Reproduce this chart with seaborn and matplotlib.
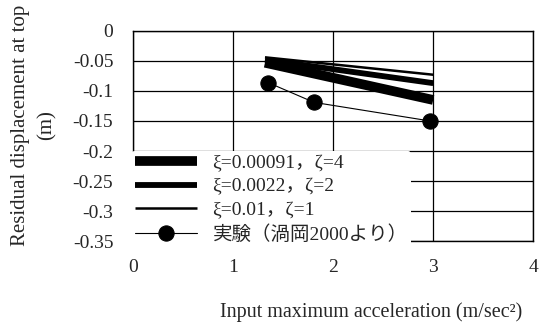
import matplotlib
matplotlib.use("Agg")
import matplotlib.pyplot as plt
import seaborn as sns
import pandas as pd

# Analysis results (three damping parameter sets) and experiment
accel = [1.32, 3.0]
disp_xi00091 = [-0.053, -0.115]
disp_xi0022 = [-0.048, -0.087]
disp_xi001 = [-0.044, -0.073]

exp_accel = [1.35, 1.81, 2.97]
exp_disp = [-0.086, -0.119, -0.150]

labels = ["ξ=0.00091，ζ=4", "ξ=0.0022，ζ=2", "ξ=0.01，ζ=1", "実験（渦岡2000より）"]
x_ticks = [0, 1, 2, 3, 4]
y_ticks = [0, -0.05, -0.1, -0.15, -0.2, -0.25, -0.3, -0.35]
y_tick_labels = ["0", "-0.05", "-0.1", "-0.15", "-0.2", "-0.25", "-0.3", "-0.35"]

sns.set_style("white")
plt.rcParams["font.family"] = ["Liberation Serif", "Noto Sans CJK JP"]

fig = plt.figure(figsize=(5.42, 3.25), dpi=100)
ax = fig.add_axes([0.245, 0.258, 0.739, 0.647])

series = [
    (disp_xi00091, 7.0),
    (disp_xi0022, 4.2),
    (disp_xi001, 1.8),
]
handles = []
for (vals, lw), lab in zip(series, labels[:3]):
    df = pd.DataFrame({"x": accel, "y": vals})
    sns.lineplot(data=df, x="x", y="y", ax=ax, color="black", linewidth=lw,
                 solid_capstyle="butt", zorder=3)
    handles.append(ax.lines[-1])

df_exp = pd.DataFrame({"x": exp_accel, "y": exp_disp})
sns.lineplot(data=df_exp, x="x", y="y", ax=ax, color="black", linewidth=0.8,
             marker="o", markersize=11, markeredgecolor="black", zorder=4)
handles.append(ax.lines[-1])

ax.set_xlim(0, 4)
ax.set_ylim(-0.35, 0)
ax.set_xticks(x_ticks)
ax.set_xticklabels([str(t) for t in x_ticks], fontsize=14)
ax.set_yticks(y_ticks)
ax.set_yticklabels(y_tick_labels, fontsize=14)
ax.tick_params(axis="both", length=0)
ax.tick_params(axis="x", pad=13)
ax.tick_params(axis="y", pad=14)
ax.grid(True, color="black", linewidth=0.9)
for sp in ax.spines.values():
    sp.set_color("black")
    sp.set_linewidth(1.0)

ax.set_xlabel("Input maximum acceleration (m/sec²)", fontsize=14.5)
ax.xaxis.set_label_coords(0.594, -0.29)
ax.set_ylabel("Residual displacement at top\n(m)", fontsize=15, linespacing=1.5)
ax.yaxis.set_label_coords(-0.19, 0.55)

leg = ax.legend(handles, labels, loc="lower left", bbox_to_anchor=(-0.005, -0.03),
                frameon=True, fontsize=14, handlelength=3.2, handletextpad=0.8,
                labelspacing=0.3, borderpad=0.2, borderaxespad=0.0)
leg.get_frame().set_facecolor("white")
leg.get_frame().set_edgecolor("none")
leg.get_frame().set_alpha(1.0)
leg.set_zorder(10)

fig.savefig("out.png", dpi=100)
